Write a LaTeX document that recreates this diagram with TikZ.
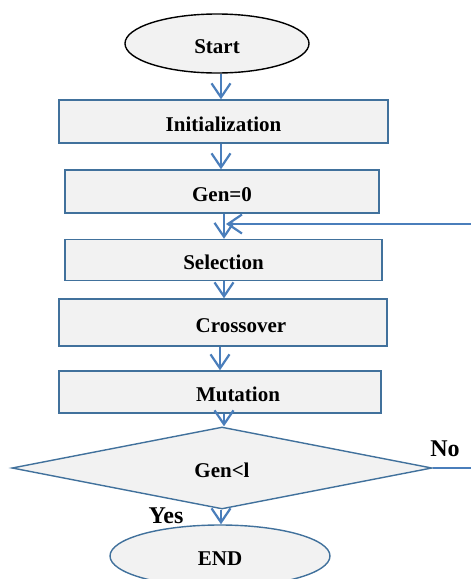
\documentclass[tikz,border=0pt]{standalone}
\usepackage{fontspec}
\setmainfont{Liberation Serif}
\usepackage{tikz}
\usetikzlibrary{shapes.geometric,arrows.meta}
\definecolor{lineblue}{HTML}{4A7EBB}
\definecolor{boxblue}{HTML}{41719C}
\definecolor{boxfill}{HTML}{F2F2F2}
\tikzset{
stepbox/.style={rectangle,minimum height=43pt,inner sep=0pt,
text height=19pt,text depth=0pt,
draw=boxblue,line width=1.4pt,fill=boxfill,
font=\fontsize{21}{25}\selectfont\bfseries},
term/.style={ellipse,inner sep=0pt,line width=1.4pt,fill=boxfill,
text height=19pt,text depth=0pt,
font=\fontsize{21}{25}\selectfont\bfseries},
test/.style={diamond,inner sep=0pt,minimum width=420pt,minimum height=82pt,
text height=19pt,text depth=0pt,
draw=boxblue,line width=1.4pt,fill=boxfill,
font=\fontsize{21}{25}\selectfont\bfseries},
answer/.style={inner sep=0pt,font=\fontsize{24}{28}\selectfont\bfseries},
flow/.style={draw=lineblue,line width=2.2pt,-{Straight Barb[length=14pt,width=19pt]}}
}
\begin{document}
\begin{tikzpicture}[x=1pt,y=-1pt]
		\useasboundingbox (0,0) rectangle (471,579);

		\node [term,draw=black,minimum width=184pt,minimum height=59pt,name=A1] at (217,43.5) {Start};
		\node [stepbox,minimum width=329pt,name=A2] at (223.5,121.5) {Initialization};
		\node [stepbox,minimum width=314pt,name=A3] at (222,191.5) {Gen=0};
		\node [stepbox,minimum width=317pt,minimum height=41pt,name=A4] at (223.5,260) {Selection};
		\node [stepbox,minimum width=328pt,minimum height=47pt,name=A5,
		label={[xshift=18pt,text height=19pt,text depth=0pt,font=\fontsize{21}{25}\selectfont\bfseries]center:Crossover}] at (223,322.5) {};
		\node [stepbox,minimum width=322pt,minimum height=42pt,name=A6,
		label={[xshift=18pt,text height=19pt,text depth=0pt,font=\fontsize{21}{25}\selectfont\bfseries]center:Mutation}] at (220,392) {};
		\node [test,name=A7] at (222,468) {Gen<l};
		\node [term,draw=boxblue,minimum width=220pt,minimum height=62pt,name=A8] at (220,556) {END};

		\node [answer,name=B1] at (445,449) {No};
		\node [answer,name=B2] at (166,516) {Yes};

		\coordinate (C1) at (226,224);

		\draw [flow] (A1.south) ++(4,0) -- (A2.north -| 221,0);
		\draw [flow] (A2.south -| 221,0) -- (A3.north -| 221,0);
		\draw [flow] (A3.south -| 224,0) -- (A4.north -| 224,0);
		\draw [flow] (A4.south -| 224,0) -- (A5.north -| 224,0);
		\draw [flow] (A5.south -| 220,0) -- (A6.north -| 220,0);
		\draw [flow] (A6.south -| 224,0) -- (A7.north -| 224,0);
		\draw [flow] (A7.south -| 221,0) -- (A8.north -| 221,0);
		\draw [flow] (A7.east) -- ++(45,0) |- (C1);

	\end{tikzpicture}
\end{document}
